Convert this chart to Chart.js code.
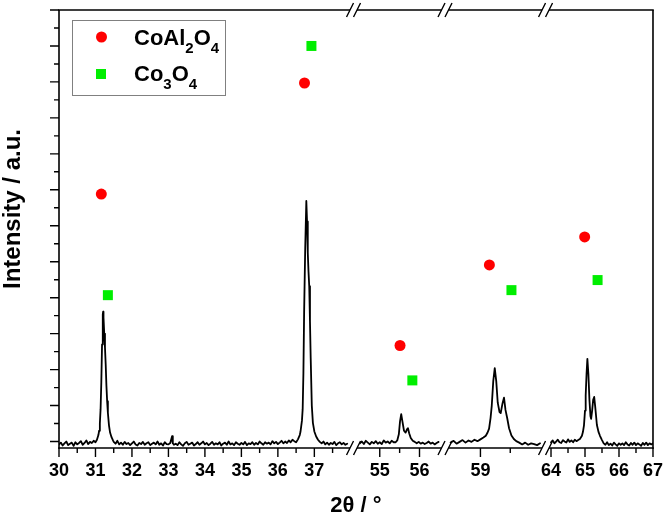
<!DOCTYPE html>
<html><head><meta charset="utf-8">
<script src="https://cdn.jsdelivr.net/npm/chart.js@4/dist/chart.umd.min.js"></script>
<style>html,body{margin:0;padding:0;background:#fff;}canvas{display:block;}</style>
</head><body>
<canvas id="c" width="666" height="519"></canvas>
<script>
// ---------- DATA (2θ in degrees, intensity in a.u.) ----------
const scan1 = [
[30.00,-8],[30.05,-3],[30.10,-11],[30.15,-5],[30.20,0],[30.25,-10],[30.30,-6],[30.35,-3],[30.40,-12],[30.45,-2],
[30.50,-8],[30.55,-4],[30.60,1],[30.65,-9],[30.70,-4],[30.75,3],[30.80,-7],[30.85,-1],[30.90,-4],[30.95,2],
[31.00,-2],[31.04,5],[31.08,18],[31.10,30],[31.12,50],[31.14,90],[31.16,165],[31.18,270],[31.20,353],[31.21,361],
[31.22,345],[31.24,300],[31.26,262],[31.28,215],[31.30,155],[31.32,112],[31.34,80],[31.37,45],[31.40,25],[31.44,12],[31.48,3],
[31.50,-1],[31.55,-6],[31.60,2],[31.65,-8],[31.70,-3],[31.75,-9],[31.80,-1],[31.85,-7],[31.90,-4],[31.95,-10],
[32.00,-5],[32.05,0],[32.10,-8],[32.15,-11],[32.20,-4],[32.25,-7],[32.30,-1],[32.35,-9],[32.40,-5],[32.45,-2],
[32.50,-10],[32.55,-6],[32.60,-3],[32.65,-8],[32.70,0],[32.75,-9],[32.80,-5],[32.85,-11],[32.90,-2],[32.95,-7],[33.00,-8],
[33.05,-4],[33.10,15],[33.12,-5],[33.15,-9],
[33.20,-6],[33.25,-10],[33.30,-2],[33.35,-8],[33.40,-12],[33.45,-5],[33.50,-1],[33.55,-9],[33.60,-6],[33.65,-3],
[33.70,-11],[33.75,-7],[33.80,-2],[33.85,-9],[33.90,-5],[33.95,0],[34.00,-8],[34.05,-4],[34.10,-10],[34.15,-6],
[34.20,-1],[34.25,-9],[34.30,-5],[34.35,-8],[34.40,-2],[34.45,-11],[34.50,-6],[34.55,-3],[34.60,-9],[34.65,0],
[34.70,-8],[34.75,-5],[34.80,-10],[34.85,-2],[34.90,-6],[34.95,-9],[35.00,-4],[35.05,-8],[35.10,-1],[35.15,-10],
[35.20,-5],[35.25,-7],[35.30,-2],[35.35,-9],[35.40,-4],[35.45,-8],[35.50,0],[35.55,-5],[35.60,-9],[35.65,-2],
[35.70,-6],[35.75,-3],[35.80,-8],[35.85,1],[35.90,-5],[35.95,-1],[36.00,-7],[36.05,-3],[36.10,2],[36.15,-5],
[36.20,0],[36.25,-4],[36.30,3],[36.35,-2],[36.40,5],[36.45,1],
[36.50,-2],[36.55,6],[36.60,18],[36.62,27],[36.66,58],[36.68,90],[36.70,190],[36.72,360],[36.75,540],[36.78,669],
[36.80,612],[36.82,525],[36.84,472],[36.86,432],[36.88,335],[36.90,232],[36.93,100],[36.96,52],[37.00,28],[37.05,14],[37.10,5],[37.15,-1],
[37.20,-5],[37.25,0],[37.30,-8],[37.35,-3],[37.40,-9],[37.45,-4],[37.50,-7],[37.55,-1],[37.60,-10],[37.65,-5],
[37.70,-2],[37.75,-8],[37.80,-4],[37.85,-9],[37.90,-6]
];
const scan2 = [
[54.50,-5],[54.55,0],[54.60,-7],[54.65,2],[54.70,-3],[54.75,-8],[54.80,-1],[54.85,-5],[54.90,1],[54.95,-6],
[55.00,-2],[55.05,-7],[55.10,3],[55.15,-3],[55.20,0],[55.25,-5],[55.30,2],[55.35,-2],
[55.40,-2],[55.44,3],[55.48,20],[55.51,56],[55.54,76],[55.57,56],[55.61,30],[55.65,25],[55.69,35],[55.71,37],
[55.74,23],[55.78,10],[55.83,2],
[55.88,-1],[55.93,-5],[55.98,-1],[56.03,-6],[56.08,-3],[56.13,-7],[56.18,-4],[56.23,0],[56.28,-6],[56.33,-3],
[56.38,-8],[56.43,-4],[56.48,-1]
];
const scan3 = [
[58.50,-3],[58.55,2],[58.60,-6],[58.65,-1],[58.70,4],[58.75,-3],[58.80,3],[58.85,-1],[58.90,5],[58.95,1],
[59.00,6],[59.05,11],[59.09,16],[59.12,25],[59.145,36],[59.17,66],[59.19,100],[59.215,168],[59.24,204],[59.265,168],
[59.29,108],[59.32,82],[59.34,79],[59.37,106],[59.395,122],[59.42,88],[59.45,64],[59.48,37],[59.52,17],[59.56,7],[59.60,1],
[59.65,-3],[59.70,-8],[59.75,-3],[59.80,-9],[59.85,-5],[59.90,-7],[59.95,-10],[60.00,-5]
];
const scan4 = [
[64.00,-2],[64.05,3],[64.10,-5],[64.15,0],[64.20,5],[64.25,-2],[64.30,-4],[64.35,4],[64.40,0],[64.45,-3],
[64.50,6],[64.55,-1],[64.60,3],[64.65,-2],[64.70,5],[64.75,1],[64.80,4],
[64.85,7],[64.91,16],[64.94,27],[64.97,45],[65.00,86],[65.02,128],[65.045,187],[65.07,230],[65.10,187],
[65.13,116],[65.16,71],[65.18,63],[65.21,86],[65.24,116],[65.27,124],[65.30,97],[65.35,46],[65.40,26],[65.44,16],[65.50,4],
[65.55,-5],[65.60,-9],[65.65,-2],[65.70,-10],[65.75,-6],[65.80,-11],[65.85,-3],[65.90,-8],[65.95,-12],[66.00,-5],
[66.05,-9],[66.10,-5],[66.15,-10],[66.20,-2],[66.25,-8],[66.30,-11],[66.35,-4],[66.40,-9],[66.45,-3],[66.50,-10],
[66.55,-5],[66.60,-8],[66.65,-12],[66.70,-4],[66.75,-9],[66.80,-3],[66.85,-10],[66.90,-5],[66.95,-8],[67.00,-5]
];
// reflection markers [2θ, marker height]
const markersCoAl2O4 = [[31.16,688],[36.73,997],[55.51,267],[59.15,491],[64.99,569]];
const markersCo3O4 = [[31.34,407],[36.92,1100],[55.82,170],[59.52,421],[65.37,449]];
// tick labels
const xMajorTicks = [30,31,32,33,34,35,36,37,55,56,59,64,65,66,67];
const xMinorTicks = [30.5,31.5,32.5,33.5,34.5,35.5,36.5,37.5,55.5,59.5,64.5,65.5,66.5];
const yTicks = [0,50,100,150,200,250,300,350,400,450,500,550,600,650,700,750,800,850,900,950,1000,1050,1100,1150,1200];
const yTitle = 'Intensity / a.u.';

// ---------- broken-axis layout (not data) ----------
const SEG_FROM  = [30, 54.5, 58.5, 64];
const SEG_TO    = [37.9, 56.5, 60, 67];
const SEG_START = [0, 302.7, 394, 495];   // virtual axis units
const SEG_SCALE = [36.7, 40, 60, 34.2];   // units per degree
const X_MAX = SEG_START[3] + (SEG_TO[3]-SEG_FROM[3])*SEG_SCALE[3];
function toV(t){
  for (let i=0;i<SEG_FROM.length;i++){
    if (t>=SEG_FROM[i]-1e-9 && t<=SEG_TO[i]+1e-9) return SEG_START[i]+(t-SEG_FROM[i])*SEG_SCALE[i];
  }
  return NaN;
}
const FONT = '"Liberation Sans", Arial, sans-serif';

const scanSets = [scan1,scan2,scan3,scan4].map(s => ({
  type:'scatter', showLine:true, data:s.map(([t,c])=>({x:toV(t),y:c})),
  borderColor:'#000', borderWidth:1.8, borderJoinStyle:'round', borderCapStyle:'round',
  pointRadius:0, fill:false, tension:0
}));

const framePlugin = {
  id:'frame',
  afterDraw(chart){
    const ctx = chart.ctx, xs = chart.scales.x, ys = chart.scales.y;
    const {left:L, right:R, top:T, bottom:B} = chart.chartArea;
    ctx.save();
    ctx.strokeStyle = '#000'; ctx.lineWidth = 1.6; ctx.lineCap='butt';
    ctx.beginPath(); ctx.moveTo(L,T); ctx.lineTo(L,B+0.8); ctx.moveTo(R,T); ctx.lineTo(R,B+0.8); ctx.stroke();
    const mids = [];
    for (let i=0;i<3;i++){
      const a = xs.getPixelForValue(toV(SEG_TO[i])), b = xs.getPixelForValue(toV(SEG_FROM[i+1]));
      mids.push((a+b)/2);
    }
    const gap = 3.5;
    for (const y of [T,B]){
      let x0 = L - 0.8;
      ctx.lineWidth = 1.6;
      ctx.beginPath();
      for (const m of mids){ ctx.moveTo(x0,y); ctx.lineTo(m-gap,y); x0 = m+gap; }
      ctx.moveTo(x0,y); ctx.lineTo(R+0.8,y);
      ctx.stroke();
      ctx.beginPath();
      ctx.lineWidth = 1.4;
      for (const m of mids){
        for (const c of [m-gap, m+gap]){ ctx.moveTo(c-3.5,y+7); ctx.lineTo(c+3.5,y-7); }
      }
      ctx.stroke();
    }
    ctx.lineWidth = 1.4;
    ctx.beginPath();
    for (const t of xMajorTicks){ const p = xs.getPixelForValue(toV(t)); ctx.moveTo(p,B); ctx.lineTo(p,B+9); }
    for (const t of xMinorTicks){ const p = xs.getPixelForValue(toV(t)); ctx.moveTo(p,B); ctx.lineTo(p,B+5); }
    yTicks.forEach(v => {
      const p = ys.getPixelForValue(v);
      const len = (v % 100 === 0) ? 9 : 5;
      ctx.moveTo(L,p); ctx.lineTo(L-len,p);
    });
    ctx.stroke();
    // y axis title
    ctx.save();
    ctx.translate(13, 209);
    ctx.rotate(-Math.PI/2);
    ctx.fillStyle = '#000'; ctx.textAlign = 'center'; ctx.textBaseline = 'middle';
    ctx.font = 'bold 24px ' + FONT;
    ctx.fillText(yTitle, 0, 0);
    ctx.restore();
    // legend
    ctx.lineWidth = 1; ctx.strokeStyle = '#808080';
    ctx.strokeRect(72.5,20.5,153,75);
    ctx.fillStyle = '#ff0000';
    ctx.beginPath(); ctx.arc(101.5,37,5.5,0,Math.PI*2); ctx.fill();
    ctx.fillStyle = '#00ee00';
    ctx.fillRect(96,69,10,10);
    ctx.fillStyle = '#000'; ctx.textBaseline = 'alphabetic'; ctx.textAlign='left';
    const drawFormula = (x,y,parts) => {
      let cx = x;
      for (const [txt,sub] of parts){
        ctx.font = 'bold ' + (sub?15:22) + 'px ' + FONT;
        ctx.fillText(txt, cx, sub ? y+8 : y);
        cx += ctx.measureText(txt).width;
      }
    };
    drawFormula(134,45,[['CoAl',0],['2',1],['O',0],['4',1]]);
    drawFormula(134,81,[['Co',0],['3',1],['O',0],['4',1]]);
    ctx.restore();
  }
};

new Chart(document.getElementById('c'), {
  type:'scatter',
  data:{ datasets:[
    ...scanSets,
    { type:'scatter', label:'CoAl2O4', data:markersCoAl2O4.map(([t,h])=>({x:toV(t),y:h})),
      pointStyle:'circle', pointRadius:5.5, backgroundColor:'#ff0000', borderWidth:0 },
    { type:'scatter', label:'Co3O4', data:markersCo3O4.map(([t,h])=>({x:toV(t),y:h})),
      pointStyle:'rect', pointRadius:7.07, backgroundColor:'#00ee00', borderWidth:0 }
  ]},
  options:{
    responsive:false, animation:false, devicePixelRatio:1,
    layout:{ padding:{ left:0, right:4, top:10, bottom:0 } },
    plugins:{ legend:{display:false}, tooltip:{enabled:false} },
    scales:{
      x:{ type:'linear', min:0, max:X_MAX,
        grid:{ display:false, drawTicks:true, tickLength:9 }, border:{display:false},
        afterBuildTicks:s => { s.ticks = xMajorTicks.map(t => ({value:toV(t)})); },
        afterFit:s => { s.height = 71; },
        ticks:{ autoSkip:false, maxRotation:0, minRotation:0, padding:3, color:'#000',
          font:{ family:FONT, size:18, weight:'bold' },
          callback:(v,i) => String(xMajorTicks[i]) },
        title:{ display:true, text:'2θ / °', color:'#000', font:{ family:FONT, size:22, weight:'bold' },
          padding:{ top:0, bottom:0 } }
      },
      y:{ type:'linear', min:-18, max:1200,
        grid:{ display:false }, border:{display:false},
        afterBuildTicks:s => { s.ticks = yTicks.map(v => ({value:v})); },
        afterFit:s => { s.width = 59; },
        ticks:{ display:false },
        title:{ display:false }
      }
    }
  },
  plugins:[framePlugin]
});
</script>
</body></html>
